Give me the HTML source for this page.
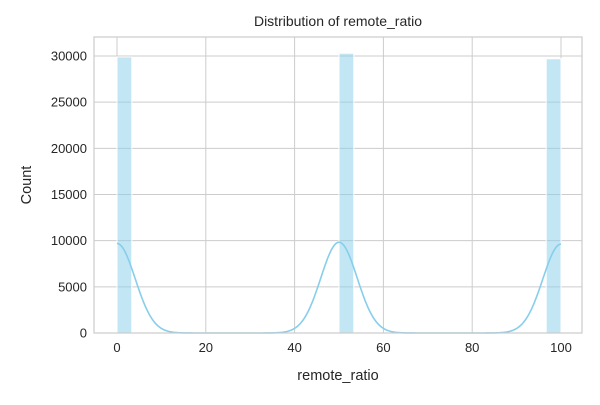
<!DOCTYPE html>
<html><head><meta charset="utf-8"><style>
body{margin:0;background:#fff;}
svg text{font-family:"Liberation Sans","DejaVu Sans",sans-serif;fill:#262626;}
</style></head><body>
<svg width="600" height="400" id="c">
<rect x="0" y="0" width="600" height="400" fill="#fff"/>
<g id="grid"></g><g id="bars"></g><g id="kde"></g><g id="axes"></g>
<text x="338" y="26" font-size="14" text-anchor="middle">Distribution of remote_ratio</text>
<text x="338" y="380" font-size="14.5" text-anchor="middle">remote_ratio</text>
<text x="31" y="185" font-size="14.5" text-anchor="middle" transform="rotate(-90 31 185)">Count</text>
</svg>
<script>
const binStarts=[0,50,96.667];
const binCounts=[29900,30300,29700];
const kdeCenters=[0,50,100];
const kdeWeights=[29900,30300,29700];
const xTicks=[0,20,40,60,80,100];
const yTicks=[0,5000,10000,15000,20000,25000,30000];
const binWidth=100/30, bandwidth=4.1;
const L=94,R=582,T=37,B=333;
const sx=v=>117+v*4.44, sy=v=>B-v*(277/30000);
const NS='http://www.w3.org/2000/svg';
function mk(p,t,a){const e=document.createElementNS(NS,t);for(const k in a)e.setAttribute(k,a[k]);document.getElementById(p).appendChild(e);return e;}
xTicks.forEach(v=>{
 const l=mk('grid','line',{x1:sx(v),x2:sx(v),y1:T,y2:B,stroke:'#cccccc','stroke-width':1});
 
 
 const t=mk('axes','text',{x:sx(v),y:B+19,'font-size':13,'text-anchor':'middle'});t.textContent=v;
 
 
});
yTicks.forEach(v=>{
 const l=mk('grid','line',{x1:L,x2:R,y1:sy(v),y2:sy(v),stroke:'#cccccc','stroke-width':1});
 
 
 const t=mk('axes','text',{x:L-7,y:sy(v)+4.5,'font-size':13,'text-anchor':'end'});t.textContent=v;
 
 
});
const fr=mk('axes','rect',{x:L,y:T,width:R-L,height:B-T,fill:'none',stroke:'#cccccc','stroke-width':1.2});


binStarts.forEach((s,i)=>{
 const r=mk('bars','rect',{x:sx(s),y:sy(binCounts[i]),width:sx(s+binWidth)-sx(s),height:B-sy(binCounts[i]),fill:'#87ceeb','fill-opacity':0.5,stroke:'#fff','stroke-width':1});
 
 
});
let d='';
for(let i=0;i<=400;i++){const x=i/4;let y=0;
 kdeCenters.forEach((c,j)=>{y+=kdeWeights[j]*binWidth*Math.exp(-0.5*((x-c)/bandwidth)**2)/(bandwidth*Math.sqrt(2*Math.PI));});
 d+=(i?'L':'M')+sx(x).toFixed(2)+','+sy(y).toFixed(2);}
const p=mk('kde','path',{d:d,fill:'none',stroke:'#87ceeb','stroke-width':1.6});


</script>
</body></html>
